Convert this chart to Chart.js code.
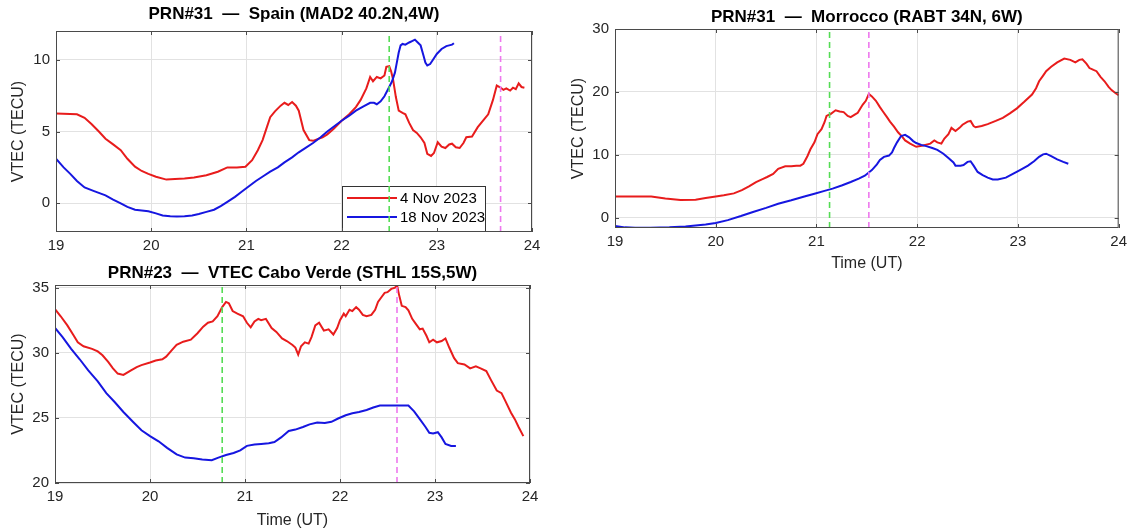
<!DOCTYPE html>
<html>
<head>
<meta charset="utf-8">
<title>VTEC</title>
<script src="https://cdn.jsdelivr.net/npm/chart.js@4.4.1/dist/chart.umd.min.js"></script>
<style>
  body {
    margin: 0;
    background: #fff;
    width: 1132px;
    height: 530px;
    position: relative;
    overflow: hidden;
  }
  canvas {
    position: absolute;
  }
  #spain { left: 0; top: 0; }
  #morocco { left: 560px; top: 0; }
  #caboverde { left: 0; top: 258px; }
</style>
</head>
<body>
<canvas id="spain" width="560" height="258"></canvas>
<canvas id="morocco" width="572" height="275"></canvas>
<canvas id="caboverde" width="560" height="272"></canvas>

<script>
'use strict';

// shared axis stuff
const timeTicks = [19, 20, 21, 22, 23, 24];
const legendNames = ['4 Nov 2023', '18 Nov 2023'];

// ---- Spain (MAD2) ----
const spainTitle = 'PRN#31  \u2014  Spain (MAD2 40.2N,4W)';
const spainYTicks = [0, 5, 10];
const spainMarks = [22.50, 23.67];   // green, magenta

const spainRedT = [19.0, 19.22, 19.3, 19.375, 19.45, 19.52, 19.6, 19.68, 19.75, 19.83, 19.9, 19.97, 20.05, 20.16, 20.25, 20.35, 20.45, 20.58, 20.7, 20.8, 20.9, 20.99, 21.06, 21.12, 21.17, 21.21, 21.25, 21.3, 21.36, 21.4, 21.44, 21.48, 21.52, 21.55, 21.6, 21.66, 21.7, 21.74, 21.8, 21.85, 21.92, 22.0, 22.08, 22.15, 22.2, 22.26, 22.3, 22.33, 22.37, 22.41, 22.45, 22.47, 22.5, 22.52, 22.54, 22.57, 22.6, 22.64, 22.67, 22.71, 22.75, 22.79, 22.83, 22.87, 22.9, 22.94, 22.97, 23.01, 23.05, 23.09, 23.13, 23.16, 23.2, 23.24, 23.28, 23.31, 23.37, 23.43, 23.49, 23.54, 23.59, 23.63, 23.66, 23.7, 23.73, 23.77, 23.8, 23.83, 23.86, 23.89, 23.92];
const spainRedV = [6.25, 6.2, 5.95, 5.5, 5.0, 4.5, 4.1, 3.7, 3.1, 2.55, 2.25, 2.05, 1.85, 1.65, 1.7, 1.72, 1.8, 1.95, 2.2, 2.5, 2.5, 2.55, 3.0, 3.7, 4.4, 5.2, 6.0, 6.4, 6.8, 7.0, 6.85, 7.05, 6.8, 6.45, 5.1, 4.4, 4.35, 4.45, 4.6, 4.8, 5.2, 5.75, 6.2, 6.7, 7.2, 8.0, 8.8, 8.5, 8.8, 8.7, 8.9, 9.5, 9.55, 9.2, 8.65, 7.4, 6.45, 6.3, 6.2, 5.6, 5.1, 4.9, 4.6, 4.2, 3.45, 3.3, 3.5, 4.25, 3.95, 3.85, 4.1, 4.15, 3.9, 3.85, 4.2, 4.6, 4.65, 5.3, 5.8, 6.2, 7.2, 8.2, 8.1, 7.9, 8.0, 7.85, 8.05, 7.95, 8.35, 8.1, 8.05];

const spainBlueT = [19.0, 19.08, 19.15, 19.22, 19.3, 19.4, 19.52, 19.6, 19.68, 19.75, 19.83, 19.9, 19.97, 20.05, 20.12, 20.2, 20.27, 20.35, 20.43, 20.5, 20.58, 20.66, 20.73, 20.8, 20.88, 20.95, 21.03, 21.1, 21.18, 21.25, 21.33, 21.4, 21.48, 21.55, 21.63, 21.7, 21.78, 21.85, 21.93, 22.0, 22.08, 22.15, 22.23, 22.3, 22.34, 22.37, 22.41, 22.45, 22.5, 22.53, 22.56, 22.58, 22.6, 22.62, 22.64, 22.67, 22.71, 22.74, 22.77, 22.8, 22.83, 22.86, 22.88, 22.9, 22.93, 22.96, 23.0, 23.05, 23.1, 23.13, 23.16, 23.18];
const spainBlueV = [3.1, 2.5, 2.05, 1.55, 1.1, 0.85, 0.55, 0.25, 0.0, -0.25, -0.45, -0.5, -0.55, -0.7, -0.85, -0.9, -0.92, -0.9, -0.85, -0.75, -0.6, -0.45, -0.2, 0.1, 0.45, 0.8, 1.2, 1.55, 1.9, 2.2, 2.5, 2.85, 3.2, 3.55, 3.9, 4.2, 4.6, 5.0, 5.4, 5.75, 6.1, 6.45, 6.75, 7.0, 7.0, 6.9, 7.1, 7.45, 8.1, 8.5, 9.1, 9.8, 10.5, 11.0, 11.1, 11.05, 11.2, 11.3, 11.4, 11.2, 11.0, 10.3, 9.8, 9.6, 9.7, 10.0, 10.4, 10.75, 10.95, 11.0, 11.05, 11.15];

// ---- Morocco (RABT) ----
const moroccoTitle = 'PRN#31  \u2014  Morrocco (RABT 34N, 6W)';
const moroccoYTicks = [0, 10, 20, 30];
const moroccoMarks = [21.13, 21.52];

const moroccoRedT = [19.0, 19.2, 19.36, 19.5, 19.65, 19.8, 19.9, 20.0, 20.08, 20.18, 20.26, 20.33, 20.4, 20.47, 20.51, 20.57, 20.62, 20.69, 20.75, 20.8, 20.84, 20.87, 20.91, 20.94, 20.98, 21.01, 21.05, 21.08, 21.1, 21.14, 21.19, 21.23, 21.27, 21.31, 21.34, 21.38, 21.41, 21.44, 21.46, 21.49, 21.52, 21.55, 21.59, 21.63, 21.66, 21.7, 21.73, 21.77, 21.81, 21.85, 21.88, 21.93, 21.99, 22.06, 22.13, 22.17, 22.2, 22.24, 22.27, 22.31, 22.34, 22.38, 22.42, 22.45, 22.5, 22.53, 22.56, 22.58, 22.64, 22.7, 22.78, 22.85, 22.92, 22.99, 23.06, 23.14, 23.18, 23.21, 23.25, 23.28, 23.33, 23.39, 23.46, 23.52, 23.57, 23.61, 23.64, 23.68, 23.71, 23.75, 23.78, 23.82, 23.86, 23.9, 23.93, 23.97, 24.0];
const moroccoRedV = [3.4, 3.4, 3.4, 3.1, 2.85, 2.9, 3.15, 3.4, 3.6, 3.9, 4.4, 5.0, 5.7, 6.2, 6.5, 7.0, 7.8, 8.2, 8.2, 8.3, 8.3, 8.6, 9.8, 10.9, 12.0, 13.3, 14.1, 15.2, 16.2, 16.5, 17.1, 16.9, 16.8, 16.2, 16.0, 16.4, 16.7, 17.5, 18.0, 18.6, 19.7, 19.3, 18.6, 17.6, 16.9, 16.0, 15.3, 14.5, 13.6, 12.9, 12.3, 11.8, 11.3, 11.5, 11.8, 12.3, 12.0, 11.8, 12.6, 13.3, 14.3, 13.8, 14.3, 14.8, 15.3, 15.4, 14.6, 14.4, 14.6, 14.9, 15.4, 15.9, 16.6, 17.4, 18.4, 19.6, 20.6, 21.7, 22.6, 23.3, 24.0, 24.7, 25.3, 25.1, 24.7, 25.1, 25.2, 24.5, 23.8, 23.5, 23.3, 22.4, 21.7, 20.8, 20.3, 19.8, 19.5];

const moroccoBlueT = [19.0, 19.1, 19.2, 19.35, 19.54, 19.7, 19.9, 20.0, 20.12, 20.25, 20.37, 20.5, 20.62, 20.75, 20.88, 20.98, 21.08, 21.16, 21.25, 21.34, 21.42, 21.48, 21.55, 21.6, 21.63, 21.67, 21.72, 21.75, 21.77, 21.8, 21.84, 21.88, 21.92, 21.96, 21.99, 22.04, 22.09, 22.15, 22.2, 22.26, 22.31, 22.36, 22.38, 22.43, 22.46, 22.5, 22.53, 22.56, 22.6, 22.65, 22.7, 22.75, 22.8, 22.88, 22.95, 23.02, 23.1, 23.16, 23.21, 23.25, 23.28, 23.33, 23.39, 23.45, 23.5];
const moroccoBlueV = [-1.3, -1.5, -1.55, -1.55, -1.5, -1.35, -1.05, -0.8, -0.35, 0.3, 0.95, 1.6, 2.25, 2.8, 3.4, 3.85, 4.3, 4.65, 5.15, 5.7, 6.25, 6.7, 7.6, 8.5, 9.2, 9.7, 9.9, 10.4, 11.1, 12.0, 13.0, 13.2, 12.8, 12.2, 11.9, 11.6, 11.4, 11.1, 10.8, 10.2, 9.5, 8.8, 8.3, 8.3, 8.4, 8.9, 9.0, 8.3, 7.3, 6.8, 6.4, 6.1, 6.1, 6.4, 7.0, 7.6, 8.3, 9.0, 9.7, 10.1, 10.2, 9.8, 9.3, 8.9, 8.6];

// ---- Cabo Verde (STHL) ----
const caboTitle = 'PRN#23  \u2014  VTEC Cabo Verde (STHL 15S,5W)';
const caboYTicks = [20, 25, 30, 35];
const caboMarks = [20.76, 22.60];

const caboRedT = [19.0, 19.06, 19.13, 19.19, 19.24, 19.3, 19.39, 19.45, 19.5, 19.56, 19.61, 19.66, 19.72, 19.8, 19.86, 19.91, 20.0, 20.06, 20.13, 20.17, 20.23, 20.28, 20.35, 20.43, 20.5, 20.56, 20.61, 20.66, 20.71, 20.76, 20.8, 20.83, 20.87, 20.92, 20.98, 21.02, 21.06, 21.1, 21.14, 21.17, 21.22, 21.28, 21.33, 21.39, 21.44, 21.5, 21.53, 21.56, 21.59, 21.63, 21.67, 21.7, 21.74, 21.78, 21.83, 21.88, 21.93, 21.97, 22.0, 22.04, 22.06, 22.1, 22.13, 22.17, 22.2, 22.24, 22.28, 22.33, 22.37, 22.4, 22.43, 22.47, 22.5, 22.54, 22.58, 22.6, 22.62, 22.65, 22.69, 22.72, 22.76, 22.8, 22.84, 22.87, 22.91, 22.94, 22.98, 23.02, 23.07, 23.11, 23.15, 23.2, 23.24, 23.31, 23.37, 23.43, 23.48, 23.54, 23.59, 23.65, 23.7, 23.74, 23.8, 23.84, 23.88, 23.93];
const caboRedV = [33.35, 32.8, 32.1, 31.4, 30.8, 30.5, 30.3, 30.1, 29.8, 29.3, 28.8, 28.4, 28.3, 28.65, 28.9, 29.05, 29.25, 29.4, 29.5, 29.7, 30.2, 30.6, 30.85, 31.0, 31.5, 32.0, 32.3, 32.4, 32.8, 33.5, 33.9, 33.8, 33.2, 33.0, 32.8, 32.3, 31.95, 32.4, 32.6, 32.5, 32.6, 31.9, 31.6, 31.1, 30.9, 30.6, 30.4, 29.85, 30.5, 30.8, 30.7, 31.2, 32.1, 32.3, 31.7, 31.8, 31.4, 31.9, 32.5, 33.0, 32.8, 33.3, 33.2, 33.5, 33.3, 32.9, 32.8, 32.9, 33.3, 33.9, 34.2, 34.6, 34.65, 34.9, 35.0, 35.2, 34.5, 33.6, 33.5, 33.25, 32.6, 32.2, 31.8, 31.85, 31.3, 30.8, 31.0, 30.8, 30.9, 31.1, 30.4, 29.6, 29.2, 29.1, 28.8, 28.95, 28.8, 28.6, 27.9, 27.1, 26.9, 26.3, 25.4, 24.9, 24.3, 23.6];

const caboBlueT = [19.0, 19.08, 19.17, 19.26, 19.35, 19.45, 19.54, 19.63, 19.72, 19.82, 19.91, 20.0, 20.09, 20.18, 20.28, 20.37, 20.46, 20.55, 20.65, 20.72, 20.8, 20.88, 20.95, 21.02, 21.1, 21.17, 21.25, 21.31, 21.38, 21.46, 21.53, 21.61, 21.68, 21.76, 21.84, 21.91, 21.98, 22.06, 22.13, 22.2, 22.28, 22.35, 22.42, 22.5, 22.61, 22.72, 22.78, 22.84, 22.9, 22.94, 22.98, 23.03, 23.07, 23.11, 23.17, 23.22];
const caboBlueV = [31.9, 31.2, 30.3, 29.5, 28.65, 27.8, 26.9, 26.2, 25.45, 24.7, 24.05, 23.6, 23.2, 22.7, 22.2, 21.95, 21.9, 21.8, 21.75, 21.95, 22.15, 22.3, 22.5, 22.85, 22.95, 23.0, 23.05, 23.15, 23.5, 24.0, 24.1, 24.3, 24.5, 24.65, 24.6, 24.7, 24.95, 25.2, 25.35, 25.45, 25.6, 25.8, 25.95, 25.95, 25.95, 25.95, 25.5, 24.9, 24.3, 23.85, 23.8, 23.9, 23.5, 23.0, 22.85, 22.85];


// colours
const RED = '#e81c1c';
const BLUE = '#1616e0';
const GREEN_MARK = '#55dc55';
const PINK_MARK = '#ee78ee';
const FRAME = '#4a4a4a';
const FONT = "'Liberation Sans', Arial, Helvetica, sans-serif";


function toPoints(times, values) {
  return times.map((t, i) => ({ x: t, y: values[i] }));
}

// a vertical dashed line running the full y range
function markLine(x, yMin, yMax, color) {
  return {
    data: [{ x: x, y: yMin }, { x: x, y: yMax }],
    borderColor: color,
    borderWidth: 1.6,
    borderDash: [6, 4],
    pointRadius: 0,
    order: 0
  };
}

function seriesLine(points, color, order) {
  return {
    data: points,
    borderColor: color,
    borderWidth: 2,
    pointRadius: 0,
    tension: 0,
    order: order
  };
}

// box round the plot like matlab, with small inward ticks on every side
const framePlugin = {
  id: 'frame',
  afterDatasetsDraw(chart) {
    const { ctx, chartArea: a, scales } = chart;
    ctx.save();
    ctx.strokeStyle = FRAME;
    ctx.lineWidth = 1;
    ctx.strokeRect(a.left + 0.5, a.top + 0.5, a.right - a.left - 1, a.bottom - a.top - 1);

    ctx.beginPath();
    scales.x.ticks.forEach(t => {
      let px = Math.round(scales.x.getPixelForValue(t.value)) + 0.5;
      ctx.moveTo(px, a.bottom);
      ctx.lineTo(px, a.bottom - 4);
      ctx.moveTo(px, a.top);
      ctx.lineTo(px, a.top + 4);
    });
    scales.y.ticks.forEach(t => {
      let py = Math.round(scales.y.getPixelForValue(t.value)) + 0.5;
      ctx.moveTo(a.left, py);
      ctx.lineTo(a.left + 4, py);
      ctx.moveTo(a.right, py);
      ctx.lineTo(a.right - 4, py);
    });
    ctx.stroke();
    ctx.restore();
  }
};

// legend sitting in the lower right of the Spain axes
const insideLegend = {
  id: 'insideLegend',
  beforeDatasetsDraw(chart) {
    const { ctx, chartArea: a } = chart;
    const w = 143;
    const h = 45;
    const x = a.right - 190;
    const y = a.bottom - h - 1;
    ctx.save();
    ctx.fillStyle = '#fff';
    ctx.fillRect(x, y, w, h);
    ctx.strokeStyle = '#333';
    ctx.lineWidth = 1;
    ctx.strokeRect(x + 0.5, y + 0.5, w, h);
    const colors = [RED, BLUE];
    ctx.font = '15px ' + FONT;
    ctx.textBaseline = 'middle';
    for (let i = 0; i < legendNames.length; i++) {
      let ly = y + 12 + i * 19;
      ctx.strokeStyle = colors[i];
      ctx.lineWidth = 2;
      ctx.beginPath();
      ctx.moveTo(x + 5, ly);
      ctx.lineTo(x + 55, ly);
      ctx.stroke();
      ctx.fillStyle = '#000';
      ctx.fillText(legendNames[i], x + 58, ly + 1);
    }
    ctx.restore();
  }
};


function buildChart(id, setup) {
  const ctx = document.getElementById(id).getContext('2d');

  let datasets = [
    markLine(setup.marks[0], setup.yMin, setup.yMax, GREEN_MARK),
    markLine(setup.marks[1], setup.yMin, setup.yMax, PINK_MARK),
    seriesLine(setup.blue, BLUE, 1),
    seriesLine(setup.red, RED, 2)
  ];

  let plugins = [framePlugin];
  if (setup.legend) {
    plugins.push(insideLegend);
  }

  return new Chart(ctx, {
    type: 'line',
    data: { datasets: datasets },
    options: {
      responsive: false,
      animation: false,
      layout: { padding: { left: 0, right: setup.padRight, top: 0, bottom: 0 } },
      plugins: {
        legend: { display: false },
        tooltip: { enabled: false },
        title: {
          display: true,
          text: setup.title,
          fullSize: false,
          color: '#000',
          font: { family: FONT, size: 17, weight: 'bold' },
          padding: setup.titlePad
        }
      },
      scales: {
        x: {
          type: 'linear',
          min: 19,
          max: 24,
          afterBuildTicks: s => { s.ticks = timeTicks.map(v => ({ value: v })); },
          afterFit: s => { s.height = setup.xHeight; },
          grid: { color: '#e2e2e2', drawTicks: false },
          border: { display: false },
          ticks: { color: '#262626', font: { family: FONT, size: 15 }, padding: 5, maxRotation: 0 },
          title: {
            display: setup.xTitle,
            text: 'Time (UT)',
            color: '#262626',
            font: { family: FONT, size: 16 },
            padding: { top: 0, bottom: setup.xTitleGap }
          }
        },
        y: {
          min: setup.yMin,
          max: setup.yMax,
          afterBuildTicks: s => { s.ticks = setup.yTicks.map(v => ({ value: v })); },
          afterFit: s => { s.width = setup.yWidth; },
          grid: { color: '#e2e2e2', drawTicks: false },
          border: { display: false },
          ticks: { color: '#262626', font: { family: FONT, size: 15 }, padding: 6 },
          title: {
            display: true,
            text: 'VTEC (TECU)',
            color: '#262626',
            font: { family: FONT, size: 16 },
            padding: { top: 9, bottom: 0 }
          }
        }
      }
    },
    plugins: plugins
  });
}


buildChart('spain', {
  title: spainTitle,
  titlePad: { top: 4, bottom: 6.6 },
  red: toPoints(spainRedT, spainRedV),
  blue: toPoints(spainBlueT, spainBlueV),
  marks: spainMarks,
  yTicks: spainYTicks,
  yMin: -2,
  yMax: 12,
  yWidth: 56,
  xHeight: 26,
  padRight: 28,
  xTitle: false,
  xTitleGap: 0,
  legend: true
});

buildChart('morocco', {
  title: moroccoTitle,
  titlePad: { top: 6.8, bottom: 1.8 },
  red: toPoints(moroccoRedT, moroccoRedV),
  blue: toPoints(moroccoBlueT, moroccoBlueV),
  marks: moroccoMarks,
  yTicks: moroccoYTicks,
  yMin: -1.6,
  yMax: 30,
  yWidth: 55,
  xHeight: 47,
  padRight: 9,
  xTitle: true,
  xTitleGap: 2,
  legend: false
});

buildChart('caboverde', {
  title: caboTitle,
  titlePad: { top: 4.8, bottom: 1.8 },
  red: toPoints(caboRedT, caboRedV),
  blue: toPoints(caboBlueT, caboBlueV),
  marks: caboMarks,
  yTicks: caboYTicks,
  yMin: 20,
  yMax: 35.2,
  yWidth: 55,
  xHeight: 47,
  padRight: 30,
  xTitle: true,
  xTitleGap: 0,
  legend: false
});
</script>
</body>
</html>
